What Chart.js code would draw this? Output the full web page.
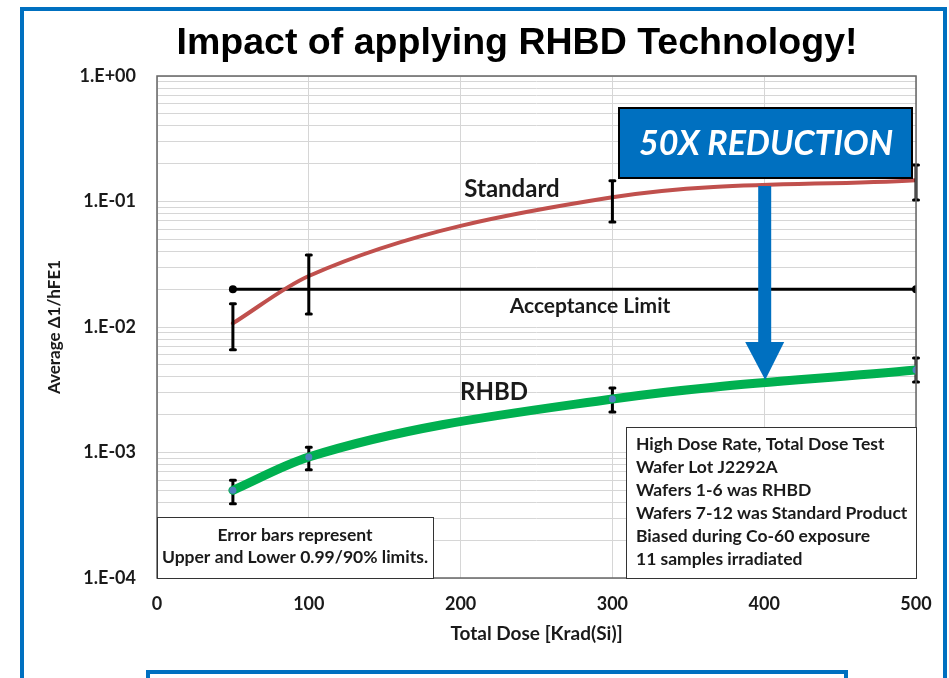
<!DOCTYPE html>
<html>
<head>
<meta charset="utf-8">
<script src="https://cdn.jsdelivr.net/npm/chart.js@4.4.1/dist/chart.umd.min.js"></script>
<style>
  html, body { margin: 0; padding: 0; background: #fff; }
  #wrap { width: 949px; height: 678px; position: relative; }
</style>
</head>
<body>
<div id="wrap"><canvas id="rhbd-chart"></canvas></div>
<script>
// doses (Krad(Si)) where the wafers were measured
const doses = [50, 100, 300, 500];

// Standard product: average value and error bar limits
const standardVals = [0.0107, 0.0255, 0.108, 0.148];
const standardHigh = [0.0153, 0.0375, 0.146, 0.195];
const standardLow  = [0.0066, 0.0127, 0.0687, 0.103];

// RHBD product
const rhbdVals = [0.0005, 0.00092, 0.00267, 0.00454];
const rhbdHigh = [0.0006, 0.0011, 0.00327, 0.00566];
const rhbdLow  = [0.00039, 0.00073, 0.0021, 0.00365];

// acceptance limit line
const acceptanceDoses = [50, 500];
const acceptanceLimit = 0.02;

// axes
const xTicks = [0, 100, 200, 300, 400, 500];
const yDecades = [1e-4, 1e-3, 1e-2, 1e-1, 1];
const yTickLabels = ['1.E-04', '1.E-03', '1.E-02', '1.E-01', '1.E+00'];

const infoLines = [
  'High Dose Rate, Total Dose Test',
  'Wafer Lot J2292A',
  'Wafers 1-6 was RHBD',
  'Wafers 7-12 was Standard Product',
  'Biased during Co-60 exposure',
  '11 samples irradiated'
];
const errorNote = ['Error bars represent', 'Upper and Lower 0.99/90% limits.'];

const FONT = 'Lato, "Open Sans", sans-serif';
const TXT = '#1a1a1a';
const BLUE = '#0070C0';

const toPts = (xs, ys) => xs.map((x, i) => ({ x: x, y: ys[i] }));

// gridlines at 1..9 of every decade
const yGrid = [];
yDecades.forEach((d, i) => {
  if (i === yDecades.length - 1) { yGrid.push(d); return; }
  for (let m = 1; m <= 9; m++) yGrid.push(+(m * d).toPrecision(6));
});

function drawErrorBars(chart, highs, lows) {
  const ctx = chart.ctx, xs = chart.scales.x, ys = chart.scales.y;
  ctx.save();
  ctx.strokeStyle = '#000';
  ctx.lineWidth = 3;
  ctx.lineCap = 'round';
  doses.forEach((d, i) => {
    const px = xs.getPixelForValue(d);
    const top = ys.getPixelForValue(highs[i]);
    const bot = ys.getPixelForValue(lows[i]);
    ctx.beginPath();
    ctx.moveTo(px, top); ctx.lineTo(px, bot);
    ctx.moveTo(px - 2.5, top); ctx.lineTo(px + 2.5, top);
    ctx.moveTo(px - 2.5, bot); ctx.lineTo(px + 2.5, bot);
    ctx.stroke();
  });
  ctx.restore();
}

const decorations = {
  id: 'decorations',
  beforeDraw(chart) {
    const ctx = chart.ctx;
    ctx.save();
    ctx.fillStyle = '#fff';
    ctx.fillRect(0, 0, chart.width, chart.height);
    ctx.strokeStyle = BLUE;
    ctx.lineWidth = 4;
    ctx.strokeRect(22, 9, 923, 800);
    ctx.strokeRect(148, 672, 698, 60);
    // title
    ctx.fillStyle = '#000';
    ctx.font = 'bold 36px "Liberation Sans", Arial, sans-serif';
    ctx.textAlign = 'center';
    ctx.textBaseline = 'middle';
    const t = 'Impact of applying RHBD Technology!';
    const w = ctx.measureText(t).width;
    ctx.translate(517, 44);
    ctx.scale(681 / w, 1);
    ctx.fillText(t, 0, 0);
    ctx.restore();
  },
  beforeDatasetDraw(chart, args) {
    if (args.meta.label === 'RHBD') drawErrorBars(chart, rhbdHigh, rhbdLow);
  },
  afterDatasetDraw(chart, args) {
    if (args.meta.label === 'Standard') drawErrorBars(chart, standardHigh, standardLow);
  },
  afterDraw(chart) {
    const ctx = chart.ctx, a = chart.chartArea;
    ctx.save();
    // plot border
    ctx.strokeStyle = '#666';
    ctx.lineWidth = 1.5;
    ctx.strokeRect(a.left, a.top, a.right - a.left, a.bottom - a.top);

    // series labels
    ctx.fillStyle = TXT;
    ctx.textAlign = 'center';
    ctx.textBaseline = 'middle';
    ctx.font = 'bold 24px ' + FONT;
    ctx.fillText('Standard', 512, 189);
    ctx.fillText('RHBD', 494, 392);
    ctx.font = 'bold 21px ' + FONT;
    ctx.fillText('Acceptance Limit', 590, 306);

    // error bar note box
    ctx.fillStyle = '#fff';
    ctx.fillRect(a.left, 517, 276, a.bottom - 517);
    ctx.strokeStyle = '#333';
    ctx.lineWidth = 1;
    ctx.strokeRect(a.left + 0.5, 517.5, 276, a.bottom - 517);
    ctx.fillStyle = TXT;
    ctx.font = 'bold 17.5px ' + FONT;
    ctx.fillText(errorNote[0], a.left + 138, 535);
    ctx.fillText(errorNote[1], a.left + 138, 557);

    // info box
    ctx.fillStyle = '#fff';
    ctx.fillRect(626, 427, a.right - 626, a.bottom - 427);
    ctx.strokeRect(626.5, 427.5, a.right - 626, a.bottom - 427);
    ctx.fillStyle = TXT;
    ctx.textAlign = 'left';
    ctx.font = 'bold 17.5px ' + FONT;
    infoLines.forEach((l, i) => ctx.fillText(l, 636, 444 + i * 23));

    // arrow
    const ax = chart.scales.x.getPixelForValue(400);
    ctx.fillStyle = BLUE;
    ctx.fillRect(ax - 6, 186, 13, 158);
    ctx.beginPath();
    ctx.moveTo(ax - 19, 342);
    ctx.lineTo(ax + 20, 342);
    ctx.lineTo(ax + 1, 380);
    ctx.closePath();
    ctx.fill();

    // 50X box
    ctx.fillStyle = BLUE;
    ctx.fillRect(619, 108, 293, 70);
    ctx.strokeStyle = '#000';
    ctx.lineWidth = 2;
    ctx.strokeRect(619, 108, 293, 70);
    ctx.fillStyle = '#fff';
    ctx.textAlign = 'center';
    ctx.font = 'italic bold 34px ' + FONT;
    ctx.fillText('50X REDUCTION', 766, 144);
    ctx.restore();
  }
};

new Chart(document.getElementById('rhbd-chart'), {
  type: 'line',
  data: {
    datasets: [
      {
        label: 'RHBD',
        data: toPts(doses, rhbdVals),
        borderColor: '#00B050',
        borderWidth: 9,
        borderCapStyle: 'round',
        cubicInterpolationMode: 'monotone',
        pointRadius: 3.5,
        pointBorderWidth: 0,
        pointBackgroundColor: '#4F81BD',
        order: 0
      },
      {
        label: 'Standard',
        data: toPts(doses, standardVals),
        borderColor: '#C0504D',
        borderWidth: 4,
        borderCapStyle: 'round',
        cubicInterpolationMode: 'monotone',
        pointRadius: 0,
        order: 1
      },
      {
        label: 'Acceptance Limit',
        data: toPts(acceptanceDoses, acceptanceDoses.map(() => acceptanceLimit)),
        borderColor: '#000',
        borderWidth: 3,
        pointRadius: 4,
        pointBorderWidth: 0,
        pointBackgroundColor: '#000',
        order: 2
      }
    ]
  },
  options: {
    responsive: true,
    maintainAspectRatio: false,
    animation: false,
    devicePixelRatio: 1,
    layout: { padding: { top: 76, right: 33, left: 0, bottom: 0 } },
    plugins: {
      legend: { display: false },
      tooltip: { enabled: false }
    },
    scales: {
      x: {
        type: 'linear',
        min: 0,
        max: 500,
        afterBuildTicks: (s) => { s.ticks = xTicks.map(v => ({ value: v })); },
        afterFit: (s) => { s.height = 100; },
        ticks: { color: TXT, font: { family: FONT, size: 18, weight: 'bold' }, padding: 15 },
        grid: { color: '#d6d6d6', drawTicks: false },
        border: { display: false },
        title: {
          display: true,
          text: 'Total Dose [Krad(Si)]',
          color: TXT,
          font: { family: FONT, size: 19, weight: 'bold' },
          padding: { top: 0, bottom: 33 }
        }
      },
      y: {
        type: 'logarithmic',
        min: 1e-4,
        max: 1,
        afterBuildTicks: (s) => { s.ticks = yGrid.map(v => ({ value: v })); },
        afterFit: (s) => { s.width = 157; },
        ticks: {
          autoSkip: false,
          color: TXT,
          font: { family: FONT, size: 18, weight: 'bold' },
          padding: 21,
          callback: (v) => {
            const i = yDecades.findIndex(d => Math.abs(d - v) < d * 1e-6);
            return i >= 0 ? yTickLabels[i] : '';
          }
        },
        grid: { color: '#d6d6d6', drawTicks: false },
        border: { display: false },
        title: {
          display: true,
          text: 'Average \u03941/hFE1',
          color: TXT,
          font: { family: FONT, size: 17, weight: 'bold' },
          padding: { top: 44, bottom: 0 }
        }
      }
    }
  },
  plugins: [decorations]
});
</script>
</body>
</html>
